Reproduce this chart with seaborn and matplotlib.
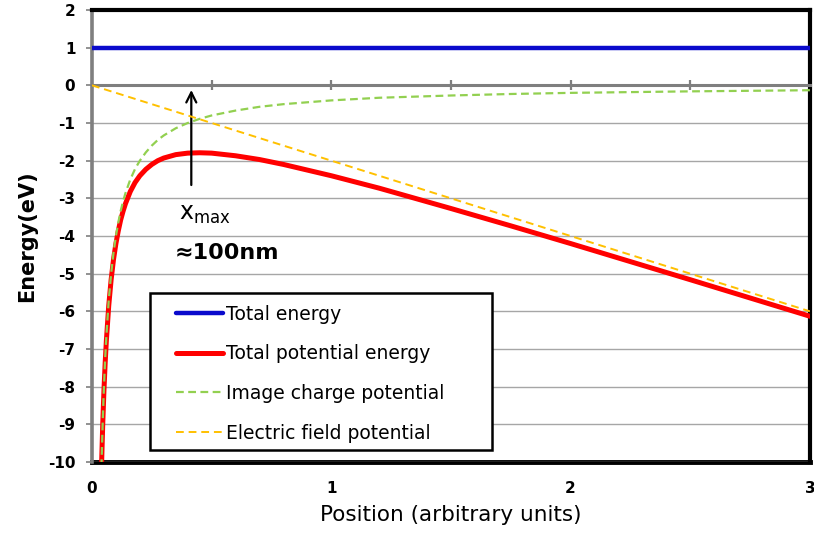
import matplotlib
matplotlib.use("Agg")
import matplotlib.pyplot as plt
from matplotlib.patches import Rectangle
import seaborn as sns

# ---- data ----
x_pos = [0.035, 0.04, 0.045, 0.05, 0.055, 0.06, 0.07, 0.08, 0.09, 0.1, 0.11, 0.12, 0.13, 0.14,
         0.16, 0.18, 0.2, 0.225, 0.25, 0.275, 0.3, 0.35, 0.4, 0.45, 0.5, 0.6, 0.7, 0.8, 1.0,
         1.2, 1.5, 1.75, 2.0, 2.5, 3.0]
image_charge = [-11.43, -10.0, -8.89, -8.0, -7.27, -6.67, -5.71, -5.0, -4.44, -4.0, -3.64,
                -3.33, -3.08, -2.86, -2.5, -2.22, -2.0, -1.78, -1.6, -1.45, -1.33, -1.14, -1.0,
                -0.89, -0.8, -0.67, -0.57, -0.5, -0.4, -0.33, -0.27, -0.23, -0.2, -0.16, -0.13]
total_potential = [-11.5, -10.08, -8.98, -8.1, -7.38, -6.79, -5.85, -5.16, -4.62, -4.2, -3.86,
                   -3.57, -3.34, -3.14, -2.82, -2.58, -2.4, -2.23, -2.1, -2.0, -1.93, -1.84,
                   -1.8, -1.79, -1.8, -1.87, -1.97, -2.1, -2.4, -2.73, -3.27, -3.73, -4.2,
                   -5.16, -6.13]
field_x = [0.0, 3.0]
field_potential = [0.0, -6.0]
total_x = [0.0, 3.0]
total_energy = [1.0, 1.0]

y_ticks = list(range(-10, 3))
x_labels = [0, 1, 2, 3]
x_minor = [0.5, 1.0, 1.5, 2.0, 2.5, 3.0]

sns.set_theme(style="white")
plt.rcParams['font.family'] = ['DejaVu Sans']
plt.rcParams['axes.unicode_minus'] = False
for k in ['text.color', 'axes.labelcolor', 'xtick.labelcolor', 'ytick.labelcolor']:
    plt.rcParams[k] = 'black'

fig = plt.figure(figsize=(8.14, 5.40), dpi=100)
ax = fig.add_axes([0.113, 0.1444, 0.882, 0.8371])

sns.lineplot(x=total_x, y=total_energy, ax=ax, color="#0A0ACC", lw=3.2,
             label="Total energy", zorder=3)
sns.lineplot(x=x_pos, y=total_potential, ax=ax, color="#FF0000", lw=3.6,
             label="Total potential energy", zorder=3, sort=False)
sns.lineplot(x=x_pos, y=image_charge, ax=ax, color="#92D050", lw=1.6,
             linestyle=(0, (3.5, 2)), label="Image charge potential", zorder=4, sort=False)
sns.lineplot(x=field_x, y=field_potential, ax=ax, color="#FFC000", lw=1.4,
             linestyle=(0, (4, 2.5)), label="Electric field potential", zorder=5)

ax.set_xlim(0, 3)
ax.set_ylim(-10, 2)

# horizontal grid
ax.set_yticks(y_ticks)
ax.yaxis.grid(True, color="#A6A6A6", lw=1)
ax.xaxis.grid(False)

# x axis line at zero with crossing ticks
ax.spines['bottom'].set_position(('data', 0))
ax.spines['bottom'].set_color("#7F7F7F")
ax.spines['bottom'].set_linewidth(2.2)
ax.spines['bottom'].set_zorder(2.5)
ax.set_xticks(x_minor)
ax.tick_params(axis='x', direction='inout', length=7, width=1.6, color="#7F7F7F",
               labelbottom=False, bottom=True)

ax.spines['left'].set_color("#7F7F7F")
ax.spines['left'].set_linewidth(2.6)
ax.tick_params(axis='y', direction='out', length=4, width=1.2, color="#7F7F7F",
               left=True, pad=8, labelsize=11, labelcolor='black')
for lab in ax.get_yticklabels():
    lab.set_fontweight('bold')

for s in ['top', 'right']:
    ax.spines[s].set_color('black')
    ax.spines[s].set_linewidth(3)

# bottom frame with labels
sec = ax.secondary_xaxis('bottom')
sec.set_xticks(x_labels)
sec.set_xticklabels([str(v) for v in x_labels], fontweight='bold', fontsize=11)
sec.tick_params(length=0, pad=14, labelcolor='black')
sec.spines['bottom'].set_color('black')
sec.spines['bottom'].set_linewidth(3.5)

ax.set_ylabel("Energy(eV)", fontsize=15, fontweight='bold', labelpad=8, color='black')
ax.set_xlabel("")
sec.set_xlabel("Position (arbitrary units)", fontsize=15.5, labelpad=6, color='black')

# annotation
ax.annotate("", xy=(0.415, -0.05), xytext=(0.415, -2.72),
            arrowprops=dict(arrowstyle="->", color="black", lw=1.6, mutation_scale=18))
ax.text(0.365, -3.42, r"x$_{\mathregular{max}}$", fontsize=17, va='center', ha='left',
        color='black')
ax.text(0.345, -4.45, "≈100nm", fontsize=16, fontweight='bold', va='center', ha='left',
        color='black')

# legend: frame drawn as a separate box
ax.add_patch(Rectangle((0.081, 0.027), 0.476, 0.347, transform=ax.transAxes,
                       facecolor='white', edgecolor='black', lw=1.8, zorder=9))
leg = ax.legend(loc='upper left', bbox_to_anchor=(0.117, 0.348), fontsize=13.5,
                frameon=False, handlelength=2.5, labelspacing=1.1,
                borderpad=0, handletextpad=0.15, borderaxespad=0)
for t in leg.get_texts():
    t.set_color('black')
leg.set_zorder(10)

fig.savefig("out.png", dpi=100)
